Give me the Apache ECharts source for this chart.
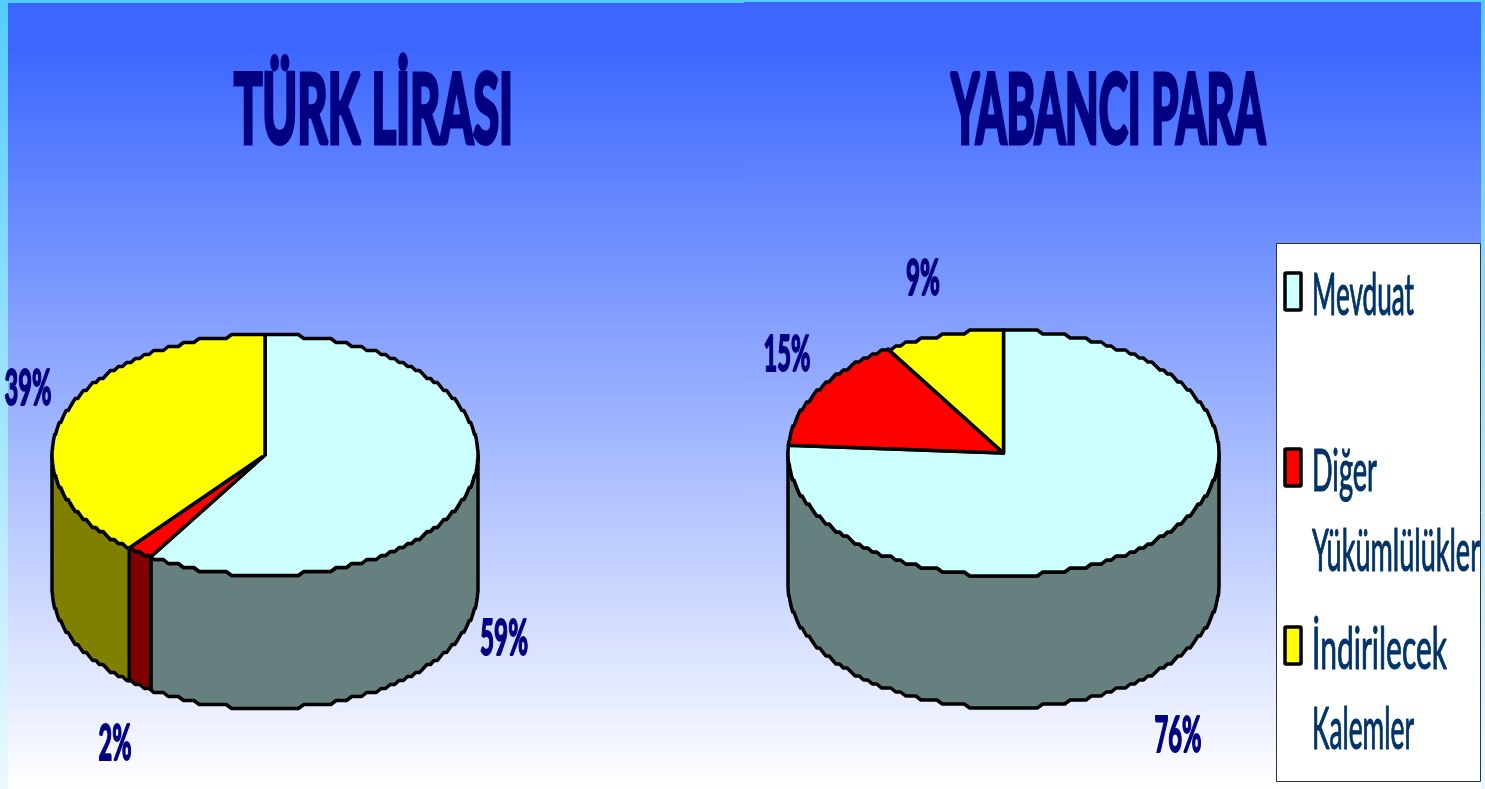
<!DOCTYPE html>
<html><head><meta charset="utf-8">
<style>html,body{margin:0;padding:0;background:#fff}#c{width:1485px;height:789px}</style>
<script src="https://cdn.jsdelivr.net/npm/echarts@6/dist/echarts.min.js"></script>
</head><body><div id="c"></div>
<script>
// ---- data ----
const categories = ['Mevduat', 'Diğer Yükümlülükler', 'İndirilecek Kalemler'];
const turkLirasiValues = [59, 2, 39];
const yabanciParaValues = [76, 15, 9];
const pieTitles = ['TÜRK LİRASI', 'YABANCI PARA'];
// ---- styles & layout ----
const topColors = ['#CCFFFF', '#FF0000', '#FFFF00'];
const wallColors = ['#668080', '#800000', '#808000'];
const legendLines = [['Mevduat'], ['Diğer', 'Yükümlülükler'], ['İndirilecek', 'Kalemler']];
const NAVY = '#000080', LEGEND_INK = '#003366';
const FONT = 'Lato, "Open Sans", "DejaVu Sans", sans-serif';

const tlLayout = {cx: 265, cy: 455, rx: 213, ry: 120.5, depth: 133,
  labels: [[504, 639, 48], [115, 744, 33], [28, 389, 47]]};
const fxLayout = {cx: 1003.5, cy: 453, rx: 215.5, ry: 123, depth: 132,
  labels: [[1178, 736, 47], [787, 355, 47], [923, 279, 34]]};

const measure = document.createElement('canvas').getContext('2d');
function fitScale(text, font, width) { measure.font = font; return width / measure.measureText(text).width; }

function fitted(text, x, y, width, size, color, weight, stroke, align) {
  const font = weight + ' ' + size + 'px ' + FONT;
  return {type: 'text', x, y, scaleX: fitScale(text, font, width), scaleY: 1, silent: true,
    style: {text, font, fill: color, stroke: stroke ? color : 'transparent', lineWidth: stroke || 0,
      lineJoin: 'round', textAlign: align || 'center', textVerticalAlign: 'middle'}};
}

// the reference's outline is a low-resolution staircase: snap y inward from the extreme of the ellipse
function snap(d, r) {
  const q = 4;
  return Math.sign(d) * (r - Math.round((r - Math.abs(d)) / q) * q);
}
function stepped(L, deg, exact) {
  const a = deg * Math.PI / 180;
  let dx = L.rx * Math.sin(a), dy = -L.ry * Math.cos(a);
  if (!exact) { dy = snap(dy, L.ry); }
  return [L.cx + dx, L.cy + dy];
}
function arc(L, from, to) {
  const pts = [stepped(L, from, true)];
  const STEP = 1.5;
  for (let d = Math.ceil(from / STEP) * STEP; d < to; d += STEP) {
    if (d > from) pts.push(stepped(L, d));
  }
  pts.push(stepped(L, to, true));
  return pts;
}

function pieRenderer(values, L) {
  const total = values.reduce((a, b) => a + b, 0);
  return function (params, api) {
    const i = params.dataIndex;
    const value = api.value(0);
    const before = values.slice(0, i).reduce((a, b) => a + b, 0);
    const a0 = before / total * 360, a1 = (before + value) / total * 360;
    const children = [];
    const w0 = Math.max(a0, 90), w1 = Math.min(a1, 270);
    if (w1 > w0) {
      const top = arc(L, w0, w1);
      const bottom = top.map(p => [p[0], p[1] + L.depth]).reverse();
      children.push({type: 'polygon', shape: {points: top.concat(bottom)},
        style: {fill: wallColors[i], stroke: '#000', lineWidth: 3.5, lineJoin: 'round'}});
    }
    children.push({type: 'polygon', shape: {points: [[L.cx, L.cy]].concat(arc(L, a0, a1))},
      style: {fill: topColors[i], stroke: '#000', lineWidth: 3.5, lineJoin: 'round'}});
    const lab = L.labels[i];
    children.push(fitted(value + '%', lab[0], lab[1], lab[2], 50, NAVY, 'bold', 2));
    return {type: 'group', children};
  };
}

const pageGradient = {type: 'linear', x: 0, y: 0, x2: 0, y2: 1, colorStops: [
  {offset: 0, color: '#3A66FF'}, {offset: 0.06, color: '#3D68FF'}, {offset: 1, color: '#FFFFFF'}]};
const edgeGradient = {type: 'linear', x: 0, y: 0, x2: 0, y2: 1, colorStops: [
  {offset: 0, color: '#55CCFF'}, {offset: 1, color: '#EAF9FD'}]};

const legendRows = [296, 472, 650];
const legendStep = 80;
const graphicEls = [
  {type: 'rect', shape: {x: 0, y: 0, width: 1485, height: 789}, style: {fill: edgeGradient}, z: -10, silent: true},
  {type: 'rect', shape: {x: 8, y: 3, width: 736, height: 786}, style: {fill: pageGradient}, z: -9, silent: true},
  {type: 'rect', shape: {x: 744, y: 2, width: 737, height: 787}, style: {fill: pageGradient}, z: -9, silent: true},
  Object.assign(fitted(pieTitles[0], 373.5, 112, 279, 96, NAVY, 'bold', 5), {z: 5}),
  Object.assign(fitted(pieTitles[1], 1108, 112, 314, 96, NAVY, 'bold', 5), {z: 5}),
  {type: 'rect', shape: {x: 1276.5, y: 243.5, width: 204, height: 538}, style: {fill: '#fff', stroke: '#333', lineWidth: 1}, z: 4, silent: true}
];
const lineWidths = [[102], [65, 168], [135, 102]];
categories.forEach((c, i) => {
  graphicEls.push({type: 'rect', shape: {x: 1285, y: legendRows[i] - 23, width: 16, height: 37, r: 1},
    style: {fill: topColors[i], stroke: '#000', lineWidth: 3.5}, z: 5, silent: true});
  legendLines[i].forEach((t, k) => {
    const el = fitted(t, 1312, legendRows[i] + k * legendStep, lineWidths[i][k], 58, LEGEND_INK, 'normal', 1.2, 'left');
    el.z = 5; graphicEls.push(el);
  });
});

const chart = echarts.init(document.getElementById('c'), null, {renderer: 'canvas'});
function pieSeries(name, values, L) {
  return {type: 'custom', name, coordinateSystem: 'none', silent: true, animation: false,
    renderItem: pieRenderer(values, L),
    data: values.map((v, i) => ({name: categories[i], value: [v]})), z: 3};
}
chart.setOption({
  animation: false,
  graphic: graphicEls,
  series: [pieSeries(pieTitles[0], turkLirasiValues, tlLayout),
           pieSeries(pieTitles[1], yabanciParaValues, fxLayout)]
});
</script></body></html>
